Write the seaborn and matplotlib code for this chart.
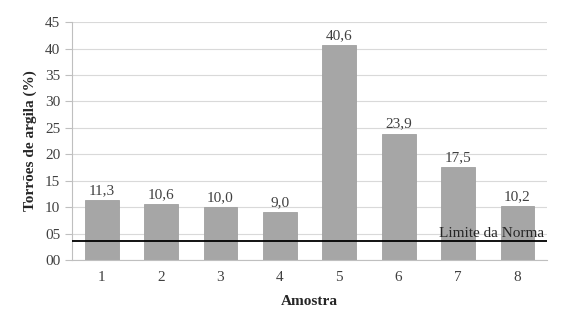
import matplotlib
matplotlib.use("Agg")
import matplotlib.pyplot as plt
import seaborn as sns
import pandas as pd
import numpy as np

amostras = ["1", "2", "3", "4", "5", "6", "7", "8"]
valores = [11.3, 10.6, 10.0, 9.0, 40.6, 23.9, 17.5, 10.2]
limite = 3.5
yticks = [0, 5, 10, 15, 20, 25, 30, 35, 40, 45]

sns.set_theme(style="white")
plt.rcParams['font.family'] = ['Liberation Serif', 'DejaVu Serif']

df = pd.DataFrame({"Amostra": amostras, "Valor": valores})

fig = plt.figure(figsize=(5.67, 3.25), dpi=100)
ax = fig.add_axes([0.127, 0.2, 0.838, 0.732])

sns.barplot(data=df, x="Amostra", y="Valor", color="#A6A6A6", width=0.57,
            saturation=1, edgecolor="#A0A0A0", linewidth=0.6, ax=ax, zorder=2)

ax.set_ylim(0, 45)
ax.set_xlim(-0.5, len(amostras) - 0.5)
ax.set_yticks(yticks)
ax.set_yticklabels([f"{v:02d}" for v in yticks])
ax.yaxis.grid(True, color="#D9D9D9", linewidth=0.8, zorder=0)
ax.set_axisbelow(True)

for s in ["top", "right"]:
    ax.spines[s].set_visible(False)
for s in ["left", "bottom"]:
    ax.spines[s].set_color("#BFBFBF")
    ax.spines[s].set_linewidth(0.8)

ax.set_xticks(np.arange(len(amostras)) + 0.5, minor=True)
ax.tick_params(axis="x", which="major", length=0, pad=8, labelsize=11, labelcolor="#404040")
ax.tick_params(axis="x", which="minor", length=5, color="#BFBFBF", width=0.8, direction="out")
ax.tick_params(axis="y", which="major", length=5, color="#BFBFBF", width=0.8, direction="out",
               labelsize=11, labelcolor="#404040", left=True)

for i, v in enumerate(valores):
    ax.text(i, v + 0.6, f"{v:.1f}".replace(".", ","), ha="center", va="bottom",
            fontsize=11, color="#404040")

ax.axhline(limite, color="black", linewidth=1.3, zorder=3)
ax.text(len(amostras) - 0.55, limite + 0.2, "Limite da Norma", ha="right", va="bottom",
        fontsize=11, color="#262626", zorder=4)

ax.set_xlabel("Amostra", fontsize=11, fontweight="bold", color="#262626", labelpad=8)
ax.set_ylabel("Torrões de argila (%)", fontsize=11, fontweight="bold", color="#262626", labelpad=6)

fig.savefig("out.png", dpi=100)
